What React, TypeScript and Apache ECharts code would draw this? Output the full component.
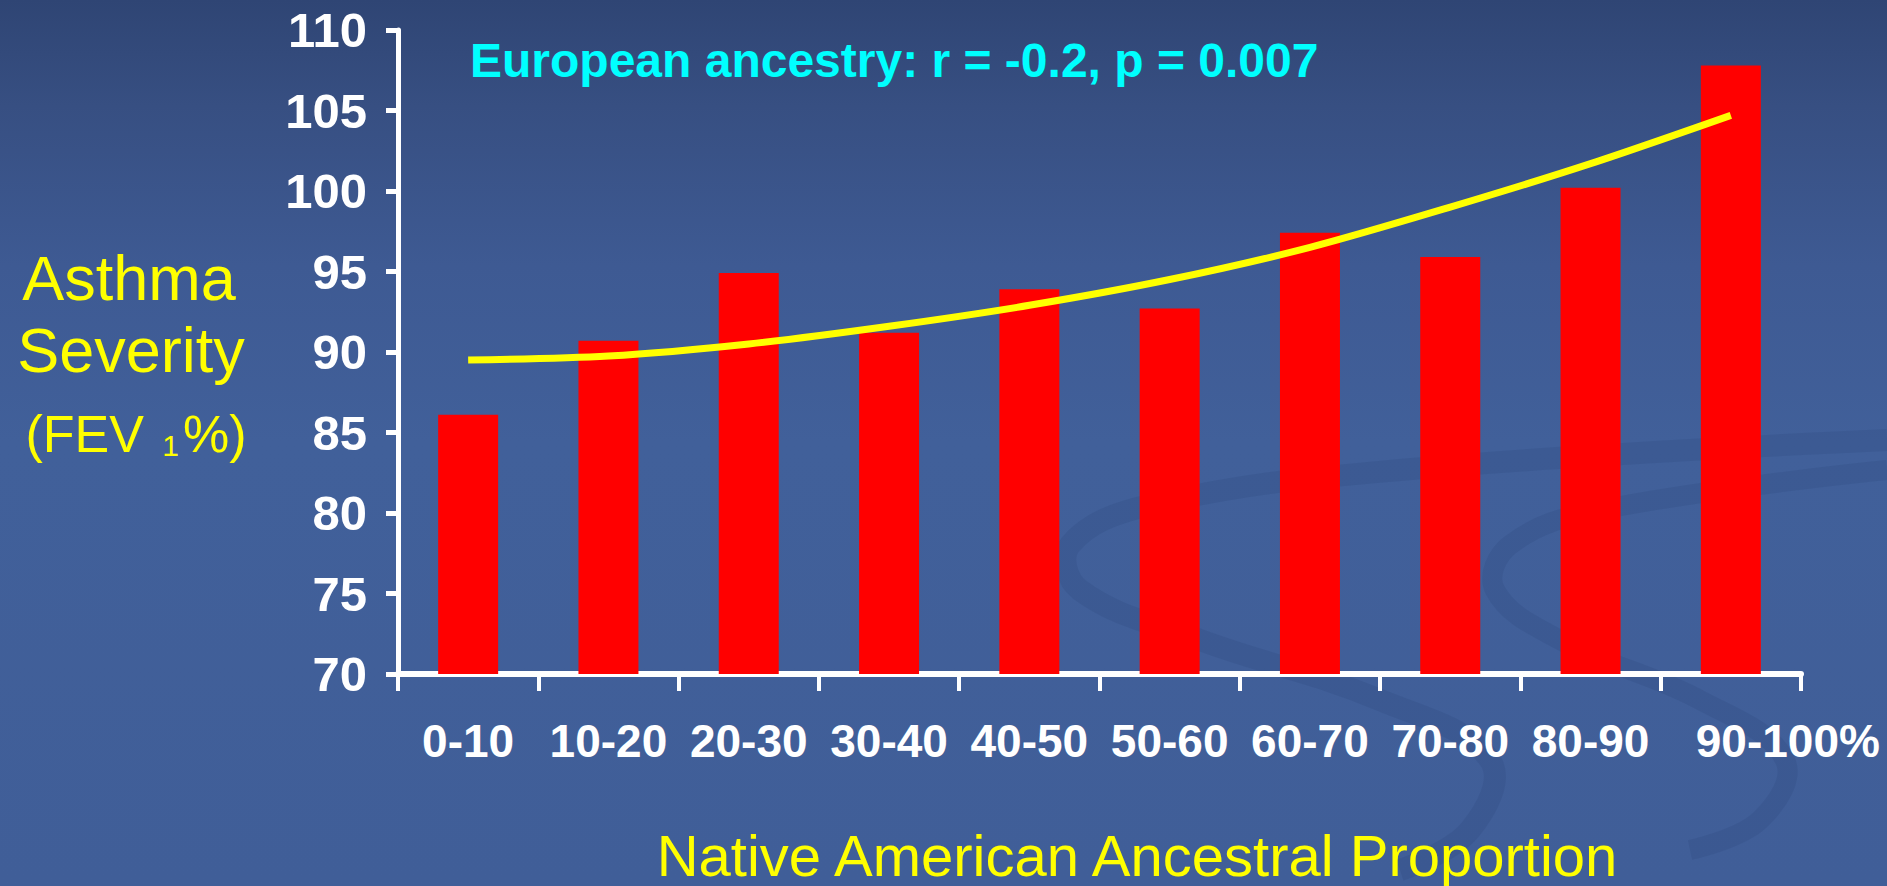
import React, { useEffect, useRef } from 'react';
import * as echarts from 'echarts';

const categories = ['0-10', '10-20', '20-30', '30-40', '40-50', '50-60', '60-70', '70-80', '80-90', '90-100%'];
const fevValues = [86.1, 90.7, 94.9, 91.2, 93.9, 92.7, 97.4, 95.9, 100.2, 107.8];
const trendValues = [89.5, 89.75, 90.5, 91.6, 92.9, 94.5, 96.5, 99.0, 101.7, 104.7];
const yMin = 70;
const yMax = 110;
const yStep = 5;
const annotation = 'European ancestry: r = -0.2, p = 0.007';
const yTitleLines = ['Asthma', 'Severity'];
const yTitleUnit = ['(FEV ', '1', '%)'];
const xTitle = 'Native American Ancestral Proportion';

const FONT = '"Liberation Sans", Arial, Helvetica, sans-serif';

export default function App() {
  const ref = useRef<HTMLDivElement>(null);

  useEffect(() => {
    if (!ref.current) return;
    const chart = echarts.init(ref.current, undefined, { renderer: 'svg' });
    const swoosh = 'rgba(38, 60, 110, 0.16)';
    const option: any = {
      animation: false,
      backgroundColor: new echarts.graphic.LinearGradient(0, 0, 0, 1, [
        { offset: 0, color: '#2f4574' },
        { offset: 0.12, color: '#374f82' },
        { offset: 0.3, color: '#3e5a93' },
        { offset: 0.5, color: '#41609a' },
        { offset: 1, color: '#405e98' },
      ]),
      grid: { left: 398, top: 30, width: 1403, height: 644, containLabel: false },
      xAxis: {
        type: 'category',
        data: categories,
        boundaryGap: true,
        axisLine: { show: true, lineStyle: { color: '#ffffff', width: 6 } },
        axisTick: { show: true, alignWithLabel: false, length: 17, lineStyle: { color: '#ffffff', width: 4 } },
        axisLabel: {
          interval: 0,
          color: '#ffffff',
          fontFamily: FONT,
          fontWeight: 'bold',
          fontSize: 46,
          margin: 44,
          formatter: (v: string) => (v === categories[categories.length - 1] ? `{s|${v}}` : v),
          rich: {
            s: { padding: [0, 0, 0, 114], color: '#ffffff', fontFamily: FONT, fontWeight: 'bold', fontSize: 46 },
          },
        },
        splitLine: { show: false },
      },
      yAxis: {
        type: 'value',
        min: yMin,
        max: yMax,
        interval: yStep,
        axisLine: { show: true, lineStyle: { color: '#ffffff', width: 5 } },
        axisTick: { show: true, length: 12, lineStyle: { color: '#ffffff', width: 5 } },
        axisLabel: {
          color: '#ffffff',
          fontFamily: FONT,
          fontWeight: 'bold',
          fontSize: 49,
          margin: 31,
        },
        splitLine: { show: false },
      },
      series: [
        {
          type: 'bar',
          data: fevValues,
          barWidth: 60,
          itemStyle: { color: '#ff0000' },
          z: 2,
        },
        {
          type: 'line',
          data: trendValues,
          smooth: 0.3,
          symbol: 'none',
          lineStyle: { color: '#ffff00', width: 7 },
          z: 3,
        },
      ],
      graphic: [
        {
          type: 'polyline',
          z: 0,
          silent: true,
          shape: {
            smooth: 0.4,
            points: [
              [1887, 440], [1400, 470], [1150, 505], [1070, 545], [1080, 590],
              [1200, 640], [1380, 700], [1490, 760], [1470, 830], [1400, 870],
            ],
          },
          style: { stroke: swoosh, lineWidth: 22, fill: null },
        },
        {
          type: 'polyline',
          z: 0,
          silent: true,
          shape: {
            smooth: 0.4,
            points: [
              [1887, 470], [1600, 510], [1510, 545], [1495, 590], [1560, 640],
              [1700, 700], [1785, 760], [1760, 820], [1690, 850],
            ],
          },
          style: { stroke: swoosh, lineWidth: 20, fill: null },
        },
        {
          type: 'text',
          left: 470,
          top: 36,
          z: 10,
          style: {
            text: annotation,
            fill: '#00ffff',
            font: `bold 48px ${FONT}`,
          },
        },
        {
          type: 'text',
          x: 129,
          y: 278,
          z: 10,
          style: {
            text: yTitleLines[0],
            fill: '#ffff00',
            font: `63px ${FONT}`,
            align: 'center',
            verticalAlign: 'middle',
          },
        },
        {
          type: 'text',
          x: 131,
          y: 350,
          z: 10,
          style: {
            text: yTitleLines[1],
            fill: '#ffff00',
            font: `63px ${FONT}`,
            align: 'center',
            verticalAlign: 'middle',
          },
        },
        {
          type: 'text',
          x: 136,
          y: 434,
          z: 10,
          style: {
            text: `{a|${yTitleUnit[0]}}{s|${yTitleUnit[1]}}{a|${yTitleUnit[2]}}`,
            align: 'center',
            verticalAlign: 'middle',
            rich: {
              a: { fill: '#ffff00', fontFamily: FONT, fontSize: 52, verticalAlign: 'bottom' },
              s: { fill: '#ffff00', fontFamily: FONT, fontSize: 30, verticalAlign: 'bottom', padding: [0, 4, 0, 4] },
            },
          },
        },
        {
          type: 'text',
          x: 1137,
          y: 855,
          z: 10,
          style: {
            text: xTitle,
            fill: '#ffff00',
            font: `58px ${FONT}`,
            align: 'center',
            verticalAlign: 'middle',
          },
        },
      ],
    };
    chart.setOption(option);
    return () => {
      chart.dispose();
    };
  }, []);

  return (
    <div
      ref={ref}
      style={{ position: 'fixed', left: 0, top: 0, width: 1887, height: 886 }}
    />
  );
}
